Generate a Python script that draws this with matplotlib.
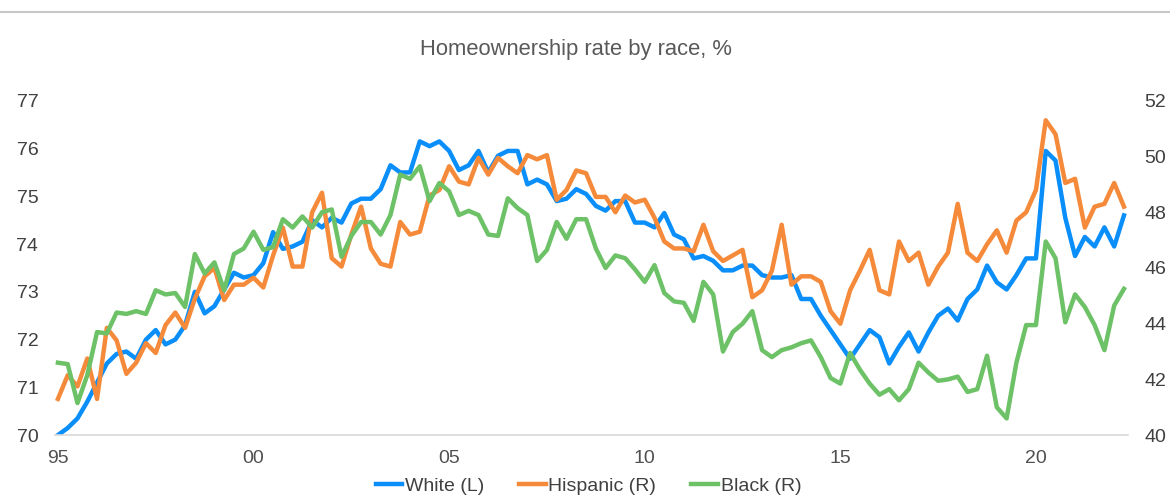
import numpy as np
import matplotlib
matplotlib.use("Agg")
import matplotlib.pyplot as plt
from matplotlib.lines import Line2D

plt.rcParams["font.family"] = ["Liberation Sans", "DejaVu Sans"]

# quarterly, 1995Q1 .. 2022Q2
START_YEAR = 1995
tick_years = [1995, 2000, 2005, 2010, 2015, 2020]
tick_labels = ["95", "00", "05", "10", "15", "20"]

white = [
    70.0, 70.15, 70.35, 70.7, 71.1, 71.5, 71.7, 71.75, 71.6, 72.0,
    72.2, 71.9, 72.0, 72.3, 73.0, 72.55, 72.7, 73.05, 73.4, 73.3,
    73.35, 73.6, 74.25, 73.9, 73.95, 74.05, 74.5, 74.35, 74.55, 74.45,
    74.85, 74.95, 74.95, 75.15, 75.65, 75.5, 75.5, 76.15, 76.05, 76.15,
    75.95, 75.55, 75.65, 75.95, 75.5, 75.85, 75.95, 75.95, 75.25, 75.35,
    75.25, 74.9, 74.95, 75.15, 75.05, 74.8, 74.7, 74.9, 74.9, 74.45,
    74.45, 74.35, 74.65, 74.2, 74.1, 73.7, 73.75, 73.65, 73.45, 73.45,
    73.55, 73.55, 73.35, 73.3, 73.3, 73.35, 72.85, 72.85, 72.5, 72.2,
    71.9, 71.6, 71.9, 72.2, 72.05, 71.5, 71.85, 72.15, 71.75, 72.15,
    72.5, 72.65, 72.4, 72.85, 73.05, 73.55, 73.2, 73.05, 73.35, 73.7,
    73.7, 75.95, 75.75, 74.55, 73.75, 74.15, 73.95, 74.35, 73.95, 74.6,
]

hispanic = [
    41.3, 42.15, 41.75, 42.75, 41.3, 43.85, 43.4, 42.2, 42.6, 43.3,
    42.95, 43.95, 44.4, 43.85, 44.9, 45.7, 46.0, 44.85, 45.4, 45.4,
    45.65, 45.3, 46.45, 47.45, 46.05, 46.05, 48.0, 48.7, 46.35, 46.05,
    47.2, 48.2, 46.7, 46.15, 46.05, 47.65, 47.2, 47.3, 48.6, 48.8,
    49.65, 49.1, 49.0, 49.95, 49.35, 49.95, 49.65, 49.4, 50.05, 49.9,
    50.05, 48.45, 48.8, 49.5, 49.4, 48.55, 48.55, 48.0, 48.6, 48.35,
    48.45, 47.8, 46.95, 46.7, 46.7, 46.6, 47.55, 46.6, 46.25, 46.45,
    46.65, 44.95, 45.2, 45.9, 47.55, 45.4, 45.7, 45.7, 45.5, 44.45,
    44.0, 45.2, 45.9, 46.65, 45.2, 45.05, 46.95, 46.25, 46.55, 45.4,
    46.05, 46.55, 48.3, 46.55, 46.25, 46.85, 47.35, 46.55, 47.7, 48.0,
    48.8, 51.3, 50.8, 49.05, 49.2, 47.45, 48.2, 48.3, 49.05, 48.2,
]

black = [
    42.6, 42.55, 41.15, 42.15, 43.7, 43.65, 44.4, 44.35, 44.45, 44.35,
    45.2, 45.05, 45.1, 44.6, 46.5, 45.8, 46.2, 45.2, 46.5, 46.7,
    47.3, 46.65, 46.75, 47.75, 47.45, 47.85, 47.45, 48.0, 48.1, 46.4,
    47.15, 47.65, 47.65, 47.2, 47.9, 49.35, 49.2, 49.65, 48.4, 49.05,
    48.75, 47.9, 48.05, 47.9, 47.2, 47.15, 48.5, 48.15, 47.9, 46.25,
    46.65, 47.65, 47.05, 47.75, 47.75, 46.7, 46.0, 46.45, 46.35, 45.95,
    45.5, 46.1, 45.1, 44.8, 44.75, 44.1, 45.5, 45.05, 43.0, 43.7,
    44.0, 44.45, 43.05, 42.8, 43.05, 43.15, 43.3, 43.4, 42.8, 42.05,
    41.85, 42.95, 42.35, 41.85, 41.45, 41.65, 41.25, 41.65, 42.6, 42.25,
    41.95, 42.0, 42.1, 41.55, 41.65, 42.85, 41.0, 40.6, 42.6, 43.95,
    43.95, 46.95, 46.35, 44.05, 45.05, 44.6, 43.95, 43.05, 44.65, 45.25,
]

BLUE = "#0A8EFA"
ORANGE = "#F48A3A"
GREEN = "#6DC166"
TXT = "#404040"

x = np.arange(len(white))

fig = plt.figure(figsize=(11.7, 4.99), dpi=100)
ax = fig.add_axes([0.047, 0.128, 0.917, 0.67])
ax2 = ax.twinx()

ax.plot(x, white, color=BLUE, lw=3.2, label="White (L)")
ax2.plot(x, hispanic, color=ORANGE, lw=3.2, label="Hispanic (R)")
ax2.plot(x, black, color=GREEN, lw=3.2, label="Black (R)")

ax.set_xlim(-0.3, len(white) - 0.6)
ax.set_ylim(70, 77)
ax2.set_ylim(40, 52)
ax.set_yticks(range(70, 78))
ax2.set_yticks(range(40, 53, 2))

ax.set_xticks([(y - START_YEAR) * 4 for y in tick_years])
ax.set_xticklabels(tick_labels)

for a in (ax, ax2):
    for s in a.spines.values():
        s.set_visible(False)
    a.tick_params(length=0, labelsize=14, labelcolor=TXT)
ax.spines["bottom"].set_visible(True)
ax.spines["bottom"].set_color("#d9d9d9")
ax.spines["bottom"].set_linewidth(1.2)
ax.tick_params(axis="x", pad=11, labelcolor="#505050")
ax.tick_params(axis="y", pad=12)
ax2.tick_params(axis="y", pad=12)

fig.text(0.492, 0.9, "Homeownership rate by race, %", ha="center", va="center",
         fontsize=15.8, color="#595959")

fig.add_artist(Line2D([0, 1], [1 - 12 / 499] * 2, color="#c8c8c8", lw=1.5))

h1, l1 = ax.get_legend_handles_labels()
h2, l2 = ax2.get_legend_handles_labels()
fig.legend(h1 + h2, l1 + l2, loc="center", bbox_to_anchor=(0.503, 0.026), ncol=3,
           frameon=False, fontsize=14, handlelength=1.35, handletextpad=0.15,
           columnspacing=1.8, labelcolor=TXT)

fig.savefig("out.png", dpi=100)
